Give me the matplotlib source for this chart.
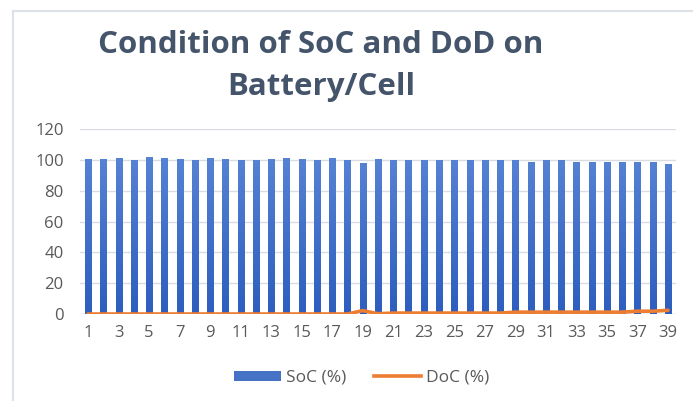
import numpy as np
import matplotlib.pyplot as plt
from matplotlib.lines import Line2D
from matplotlib.patches import Patch
from matplotlib.colors import LinearSegmentedColormap

# data
cells = list(range(1, 40))
soc = [100.7, 100.7, 101.3, 100.0, 102.0, 101.3, 100.7, 100.0, 101.3, 100.7,
       100.0, 100.0, 100.7, 101.3, 100.7, 100.0, 101.3, 100.0, 97.8, 100.7,
       99.6, 99.6, 99.6, 99.6, 99.6, 99.6, 99.6, 99.6, 99.6, 98.9,
       99.6, 99.6, 98.9, 98.9, 98.9, 98.9, 98.3, 98.3, 97.6]
dod = [0.0, 0.0, 0.0, 0.0, 0.0, 0.0, 0.0, 0.0, 0.0, 0.0,
       0.0, 0.0, 0.0, 0.0, 0.0, 0.0, 0.0, 0.0, 2.2, 0.2,
       0.6, 0.6, 0.6, 0.6, 0.6, 0.6, 0.6, 0.6, 1.2, 1.2,
       1.2, 1.2, 1.2, 1.2, 1.2, 1.2, 1.8, 1.8, 2.4]
yticks = [0, 20, 40, 60, 80, 100, 120]

plt.rcParams['font.family'] = ['Open Sans', 'DejaVu Sans']

fig = plt.figure(figsize=(6.93, 4.01), dpi=100)
ax = fig.add_axes([80.4 / 693, 1 - 314 / 401, (675.6 - 80.4) / 693, 185 / 401])

# gradient bars
grad = LinearSegmentedColormap.from_list('g', ['#2D5EBE', '#5E89D8'])
bars = ax.bar(cells, soc, width=0.4, color='#4472C4', zorder=2)
img = np.linspace(0, 1, 256).reshape(-1, 1)
for b in bars:
    b.set_facecolor('none')
    b.set_edgecolor('none')
    im = ax.imshow(img, cmap=grad, origin='lower', aspect='auto',
                   extent=[b.get_x(), b.get_x() + b.get_width(), 0, 120], zorder=2)
    im.set_clip_path(b)

ax.plot(cells, dod, color='#ED7D31', lw=2.6, zorder=3, solid_capstyle='round')

ax.set_xlim(0.5, 39.5)
ax.set_ylim(0, 120)
ax.set_yticks(yticks)
ax.set_xticks(cells[::2])
ax.tick_params(length=0, labelsize=12, labelcolor='#595959', pad=8)
ax.tick_params(axis='y', pad=12)
ax.grid(axis='y', color='#D9DDE3', lw=1, zorder=0)
for s in ax.spines.values():
    s.set_visible(False)
ax.axhline(0, color='#D9DDE3', lw=1, zorder=1)

fig.text(321 / 693, 1 - 66 / 401, 'Condition of SoC and DoD on\nBattery/Cell',
         ha='center', va='center', fontsize=22.5, fontweight='bold',
         color='#44546A', linespacing=1.55)

handles = [Patch(facecolor='#4472C4', label='SoC (%)'),
           Line2D([0], [0], color='#ED7D31', lw=2.6, label='DoC (%)')]
fig.legend(handles=handles, loc='center', bbox_to_anchor=(362 / 693, 1 - 378 / 401),
           ncol=2, frameon=False, fontsize=12.5, labelcolor='#595959',
           handlelength=2.7, handleheight=0.5, columnspacing=1.6, handletextpad=0.3)

# partial chart border seen in the screenshot
fig.add_artist(Line2D([13 / 693, 13 / 693], [0, 1 - 11 / 401], color='#DDE1E8', lw=1.5))
fig.add_artist(Line2D([13 / 693, 1], [1 - 11 / 401, 1 - 11 / 401], color='#DDE1E8', lw=1.5))

fig.savefig('out.png', dpi=100, facecolor='white')
